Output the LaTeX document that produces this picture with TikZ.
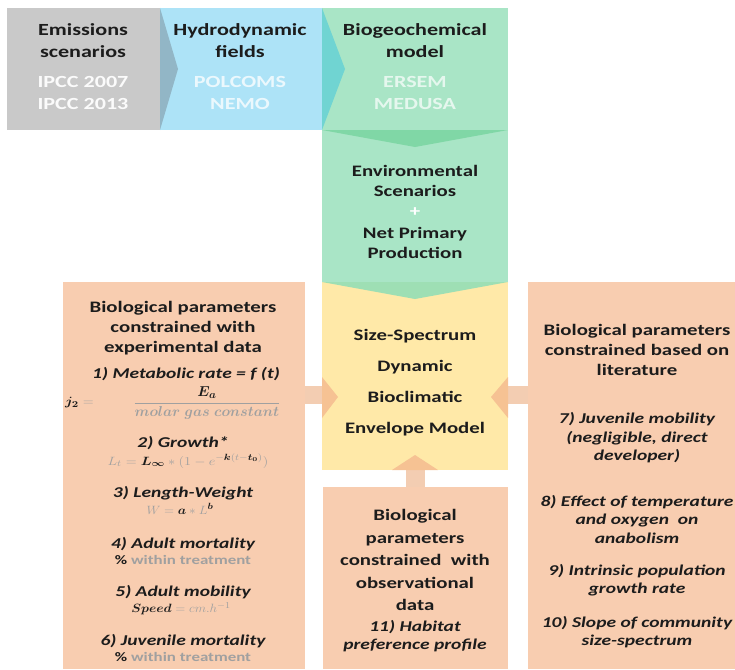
\documentclass[tikz,border=0pt]{standalone}
\usepackage{fontspec}
\setmainfont{Carlito}[FakeStretch=1.3]
\usepackage{amsmath,bm,graphicx}
\definecolor{txt}{HTML}{1C1C1C}
\definecolor{greyc}{HTML}{C9C9C9}
\definecolor{bluec}{HTML}{ADE3F7}
\definecolor{greyarr}{HTML}{92B6C6}
\definecolor{tealarr}{HTML}{70D4D2}
\definecolor{greenc}{HTML}{A9E5C6}
\definecolor{greendk}{HTML}{80D7A6}
\definecolor{greenarr}{HTML}{9EDFB4}
\definecolor{yellowc}{HTML}{FFE9A8}
\definecolor{peach}{HTML}{F8CDB0}
\definecolor{arrhead}{HTML}{F6C293}
\definecolor{arrshaft}{HTML}{F3CDB2}
\definecolor{mgrey}{HTML}{A0A0A0}
\begin{document}
\begin{tikzpicture}[x=1pt,y=-1pt,
  hd/.style={font=\bfseries\fontsize{17}{22}\selectfont,text=txt,align=center,inner sep=0},
  lt/.style={font=\bfseries\fontsize{17}{22}\selectfont,align=center,inner sep=0},
  bt/.style={font=\bfseries\fontsize{16}{20}\selectfont,text=txt,align=center,inner sep=0},
  it/.style={font=\bfseries\itshape\fontsize{15}{18.5}\selectfont,text=txt,align=center,inner sep=0},
  sm/.style={font=\bfseries\fontsize{13}{14}\selectfont,text=mgrey,align=center,inner sep=0},
  fm/.style={font=\fontsize{13}{15}\selectfont,text=mgrey,align=center,inner sep=0}]
\useasboundingbox (0,0) rectangle (735,669);
% top row boxes
\fill[greyc] (7,8) rectangle (160,130);
\fill[bluec] (160,8) rectangle (322,130);
\fill[greenc] (322,8) rectangle (508,282);
\fill[greyarr] (160,8) -- (178,69) -- (160,130) -- cycle;
\fill[tealarr] (322,8) -- (345,69) -- (322,130) -- cycle;
\fill[greendk] (322,130) -- (508,130) -- (415,147) -- cycle;
% central yellow
\fill[yellowc] (322,282) rectangle (508,470);
\fill[greenarr] (322,282) -- (508,282) -- (415,299) -- cycle;
% peach boxes
\fill[peach] (63,282) rectangle (305,669);
\fill[peach] (528,282) rectangle (735,669);
\fill[peach] (323,487) rectangle (508,669);
% block arrows
\fill[arrshaft] (305,386) rectangle (322,404);
\fill[arrhead] (322,377) -- (338,397) -- (322,418) -- cycle;
\fill[arrshaft] (508,386) rectangle (528,404);
\fill[arrhead] (508,377) -- (491,397) -- (508,418) -- cycle;
\fill[arrshaft] (406,470) rectangle (425,487);
\fill[arrhead] (392,470) -- (415,455) -- (438,470) -- cycle;
% top texts
\node[hd] (emi) at (83,41) {Emissions\\scenarios};
\node[lt,text=white!92!greyc] (ipcc) at (83,93) {IPCC 2007\\IPCC 2013};
\node[hd] (hyd) at (240,41) {Hydrodynamic\\fields};
\node[lt,text=white!75!bluec] (pol) at (240,93) {POLCOMS\\NEMO};
\node[hd] (bio) at (415,41) {Biogeochemical\\model};
\node[lt,text=white!70!greenc] (ers) at (415,93) {ERSEM\\MEDUSA};
% environmental
\node[font=\bfseries\fontsize{16}{20.5}\selectfont,text=txt,align=center,inner sep=0] (env) at (415,181) {Environmental\\Scenarios};
\node[font=\bfseries\fontsize{16}{20}\selectfont,text=white,inner sep=0] (plus) at (415,212) {+};
\node[font=\bfseries\fontsize{16}{20.5}\selectfont,text=txt,align=center,inner sep=0] (npp) at (415,243) {Net Primary\\Production};
% yellow model
\node[font=\bfseries\fontsize{16}{31}\selectfont,text=txt,align=center,inner sep=0] (ssm) at (415,383) {Size-Spectrum\\Dynamic\\Bioclimatic\\Envelope Model};
% left box
\node[bt] (lh) at (183,328) {Biological parameters\\constrained with\\experimental data};
\node[it] (l1) at (186,374) {1) Metabolic rate = f (t)};
\node[fm,anchor=west] (l1a) at (65,403) {\scalebox{1.2}[1]{$\bm{\textcolor{txt}{j_2}} =$}};
\node[fm,font=\fontsize{15}{17}\selectfont] (l1f) at (207,403) {$\displaystyle\frac{\bm{\textcolor{txt}{E_a}}}{\bm{molar\ gas\ constant}}$};
\node[it] (l2) at (183,443) {2) Growth*};
\node[fm] (l2f) at (188,461) {\scalebox{1.2}[1]{$L_t = \bm{\textcolor{txt}{L_\infty}} * (1 - e^{-\bm{\textcolor{txt}{k}}(t-\bm{\textcolor{txt}{t_0}})})$}};
\node[it] (l3) at (183,493) {3) Length-Weight};
\node[fm] (l3f) at (180,509) {\scalebox{1.1}[1]{$W = \bm{\textcolor{txt}{a}} * L^{\bm{\textcolor{txt}{b}}}$}};
\node[it] (l4) at (183,544) {4) Adult mortality};
\node[sm] (l4f) at (183,560) {\textcolor{txt}{\%} within treatment};
\node[it] (l5) at (183,592) {5) Adult mobility};
\node[fm] (l5f) at (181,609) {\scalebox{1.1}[1]{$\bm{\textcolor{txt}{Speed}} = cm.h^{-1}$}};
\node[it] (l6) at (183,641) {6) Juvenile mortality};
\node[sm] (l6f) at (183,657) {\textcolor{txt}{\%} within treatment};
% right box
\node[bt] (rh) at (637,350) {Biological parameters\\constrained based on\\literature};
\node[it] (r7) at (637,438) {7) Juvenile mobility\\(negligible, direct\\developer)};
\node[it] (r8) at (637,519) {8) Effect of temperature\\and oxygen\ \ on\\anabolism};
\node[it] (r9) at (637,580) {9) Intrinsic population\\growth rate};
\node[it] (r10) at (637,632) {10) Slope of community\\size-spectrum};
% bottom box
\node[font=\bfseries\fontsize{16}{22.5}\selectfont,text=txt,align=center,inner sep=0] (bh) at (415,560) {Biological\\parameters\\constrained\ \ with\\observational\\data};
\node[it] (b11) at (415,636) {11) Habitat\\preference profile};
\end{tikzpicture}
\end{document}
